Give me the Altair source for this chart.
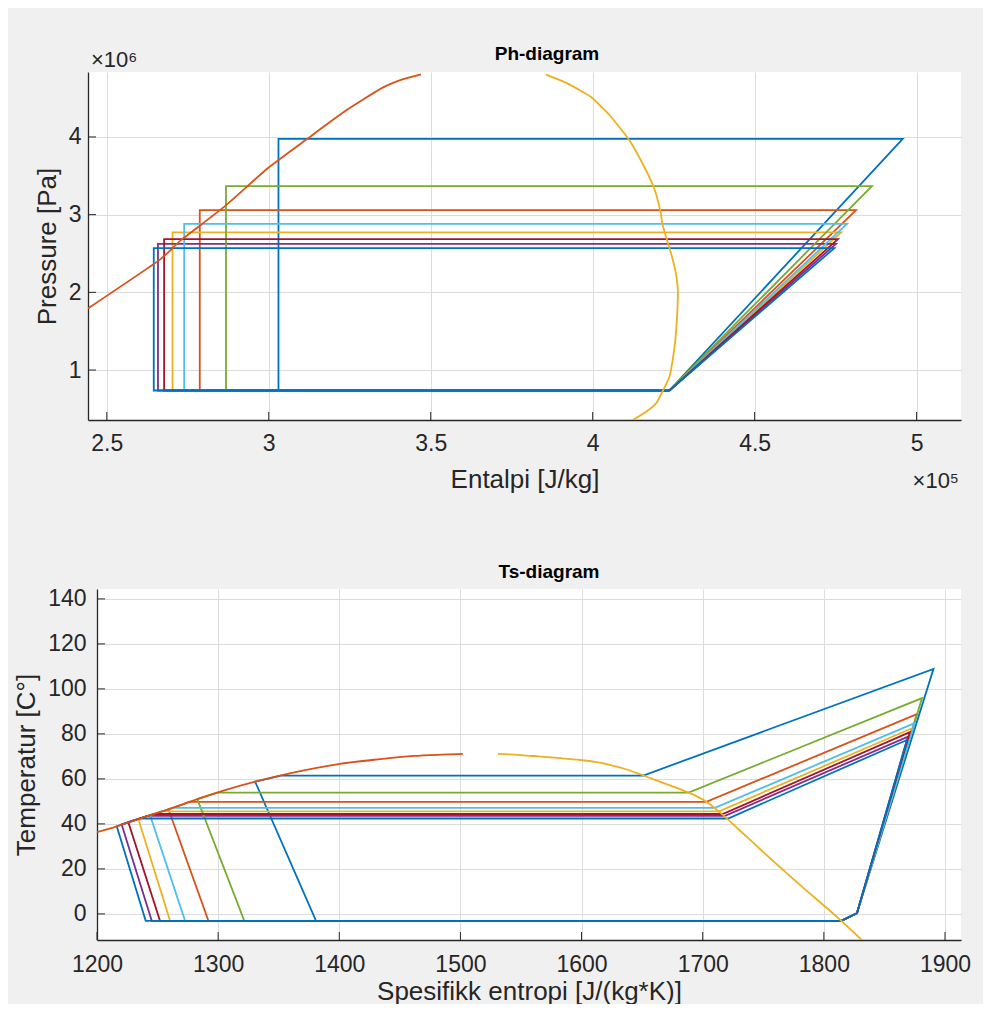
import altair as alt
import pandas as pd

# ---------------- data ----------------
# cycle order / colours (MATLAB default colour order)
cycle_names = ["c1", "c2", "c3", "c4", "c5", "c6", "c7", "c8"]
cycle_colors = ["#0072BD", "#D95319", "#EDB120", "#7E2F8E", "#77AC30", "#4DBEEE", "#A2142F", "#0072BD"]
dome_names = ["liq", "vap"]
dome_colors = ["#D95319", "#EDB120"]

# Ph-diagram: enthalpy in 1e5 J/kg, pressure in 1e6 Pa
ph_p_cond = [3.974, 3.057, 2.771, 2.624, 3.366, 2.881, 2.685, 2.569]
ph_h_liq = [3.030, 2.787, 2.703, 2.658, 2.868, 2.739, 2.677, 2.645]
ph_h_dis = [4.957, 4.813, 4.767, 4.751, 4.862, 4.785, 4.757, 4.746]
ph_p_evap = [0.737] * 8
ph_h_suc = [4.237] * 8

ph_liq_h = [2.442, 2.662, 2.729, 2.862, 2.996, 3.120, 3.238, 3.346, 3.408, 3.470]
ph_liq_p = [1.793, 2.415, 2.672, 3.100, 3.594, 3.979, 4.339, 4.622, 4.735, 4.806]
ph_vap_h = [3.856, 3.923, 3.995, 4.057, 4.113, 4.154, 4.190, 4.209, 4.216, 4.242,
            4.257, 4.263, 4.257, 4.250, 4.237, 4.196, 4.165, 4.124]
ph_vap_p = [4.802, 4.687, 4.514, 4.257, 3.958, 3.658, 3.337, 3.049, 2.865, 2.501,
            2.244, 1.986, 1.472, 1.215, 0.914, 0.572, 0.464, 0.357]

ph_xticks = [2.5, 3, 3.5, 4, 4.5, 5]
ph_yticks = [1, 2, 3, 4]

# Ts-diagram: entropy in J/(kg*K), temperature in C
ts_T_cond = [61.5, 49.8, 45.6, 43.6, 53.9, 47.1, 44.4, 42.4]
ts_T_dis = [108.9, 88.8, 82.5, 78.8, 95.9, 84.8, 80.8, 77.3]
ts_s_dis = [1890.5, 1876.8, 1872.7, 1869.5, 1881.0, 1874.9, 1871.0, 1868.5]
ts_s_vap = [1651.0, 1703.0, 1713.5, 1718.5, 1688.3, 1710.0, 1716.5, 1721.0]
ts_s_cend = [1352.0, 1276.5, 1253.5, 1242.0, 1299.5, 1262.5, 1247.0, 1235.5]
ts_s_sub = [1330.5, 1259.0, 1234.1, 1220.3, 1282.8, 1243.8, 1225.8, 1216.3]
ts_T_sub = [58.8, 46.5, 42.2, 39.8, 51.0, 43.8, 40.8, 38.9]
ts_s_thr = [1380.8, 1292.0, 1260.3, 1245.2, 1321.6, 1272.7, 1252.0, 1240.2]
ts_T_evap = [-3.1] * 8
ts_s_evsat = [1814.4] * 8
ts_s_suc = [1827.3] * 8
ts_T_suc = [0.3] * 8

ts_liq_s = [1200, 1216.3, 1240, 1259, 1282.8, 1305, 1330.5, 1360, 1398, 1434, 1461, 1485, 1502]
ts_liq_T = [36.3, 38.9, 43.2, 46.5, 51.0, 54.9, 58.8, 62.6, 66.5, 68.8, 70.2, 70.8, 71.1]
ts_vap_s = [1531, 1550, 1566, 1583, 1599, 1611, 1621.5, 1636, 1651, 1663, 1674, 1688.3,
            1696, 1703, 1712, 1730, 1753, 1780, 1814.4, 1831.4]
ts_vap_T = [71.1, 70.6, 69.9, 69.2, 68.4, 67.6, 66.5, 64.4, 61.5, 59.1, 56.9, 53.9,
            52.0, 49.8, 46.1, 37.4, 26.0, 13.0, -3.1, -11.6]

ts_xticks = [1200, 1300, 1400, 1500, 1600, 1700, 1800, 1900]
ts_yticks = [0, 20, 40, 60, 80, 100, 120, 140]

titles = ["Ph-diagram", "Ts-diagram"]

# ---------------- tables ----------------
ph_rows, ts_rows = [], []
for i, n in enumerate(cycle_names):
    pts = [(ph_h_suc[i], ph_p_evap[i]), (ph_h_dis[i], ph_p_cond[i]), (ph_h_liq[i], ph_p_cond[i]),
           (ph_h_liq[i], ph_p_evap[i]), (ph_h_suc[i], ph_p_evap[i])]
    for k, (a, b) in enumerate(pts):
        ph_rows.append({"series": n, "ord": k, "h": a, "p": b})
    pts = [(ts_s_suc[i], ts_T_suc[i]), (ts_s_dis[i], ts_T_dis[i]), (ts_s_vap[i], ts_T_cond[i]),
           (ts_s_cend[i], ts_T_cond[i]), (ts_s_sub[i], ts_T_sub[i]), (ts_s_thr[i], ts_T_evap[i]),
           (ts_s_evsat[i], ts_T_evap[i]), (ts_s_suc[i], ts_T_suc[i])]
    for k, (a, b) in enumerate(pts):
        ts_rows.append({"series": n, "ord": k, "s": a, "T": b})
ph_cycles = pd.DataFrame(ph_rows)
ts_cycles = pd.DataFrame(ts_rows)

ph_dome = pd.DataFrame(
    [{"series": "liq", "ord": k, "h": a, "p": b} for k, (a, b) in enumerate(zip(ph_liq_h, ph_liq_p))]
    + [{"series": "vap", "ord": k, "h": a, "p": b} for k, (a, b) in enumerate(zip(ph_vap_h, ph_vap_p))])
ts_dome = pd.DataFrame(
    [{"series": "liq", "ord": k, "s": a, "T": b} for k, (a, b) in enumerate(zip(ts_liq_s, ts_liq_T))]
    + [{"series": "vap", "ord": k, "s": a, "T": b} for k, (a, b) in enumerate(zip(ts_vap_s, ts_vap_T))])

color_scale = alt.Scale(domain=cycle_names + dome_names, range=cycle_colors + dome_colors)
FONT = "Liberation Sans"
AX = "#262626"
LW = 1.8
TITLE_FS = 19
TICK_FS = 23
AXTITLE_FS = 26


def straight(df, x, y):
    return alt.Chart(df).mark_line(strokeWidth=LW, clip=True).encode(
        x=x, y=y, order="ord:Q", detail="series:N",
        color=alt.Color("series:N", scale=color_scale, legend=None))


def curved(df, x, y):
    return alt.Chart(df).mark_line(strokeWidth=LW, clip=True, interpolate="monotone").encode(
        x=x, y=y, order="ord:Q", detail="series:N",
        color=alt.Color("series:N", scale=color_scale, legend=None))


def label(text, x, y, align="center", size=TICK_FS, weight="normal", color=AX):
    return alt.Chart(pd.DataFrame({"t": [text]})).mark_text(
        align=align, baseline="middle", font=FONT, fontSize=size, fontWeight=weight,
        color=color).encode(text="t:N", x=alt.value(x), y=alt.value(y))


# ---------------- Ph chart ----------------
W1, H1 = 873, 348
ph_x = alt.X("h:Q", scale=alt.Scale(domain=[2.442, 5.137], nice=False, zero=False),
             axis=alt.Axis(values=ph_xticks, format="~g", title="Entalpi [J/kg]",
                           labelPadding=12, titlePadding=11, labelFlush=False))
ph_y = alt.Y("p:Q", scale=alt.Scale(domain=[0.357, 4.836], nice=False, zero=False),
             axis=alt.Axis(values=ph_yticks, format="~g", title="Pressure [Pa]",
                           labelPadding=7, titlePadding=8))

ph_ty = alt.Chart(pd.DataFrame({"p": ph_yticks})).mark_rule(color=AX, strokeWidth=1).encode(
    y=ph_y, x=alt.value(0), x2=alt.value(8))
ph_tx = alt.Chart(pd.DataFrame({"h": ph_xticks})).mark_rule(color=AX, strokeWidth=1).encode(
    x=ph_x, y=alt.value(H1), y2=alt.value(H1 - 8))

ph = alt.layer(
    straight(ph_cycles, ph_x, ph_y),
    alt.Chart(ph_dome).mark_line(strokeWidth=LW, clip=True, interpolate="cardinal", tension=0.5).encode(
        x=ph_x, y=ph_y, order="ord:Q", detail="series:N",
        color=alt.Color("series:N", scale=color_scale, legend=None)),
    ph_ty, ph_tx,
    label("×10⁶", 3, -12, align="left", size=22),
    label("×10⁵", W1 - 2, H1 + 61, align="right", size=22),
    label(titles[0], 459, -18, size=TITLE_FS, weight="bold", color="#000000"),
).properties(width=W1, height=H1)

# ---------------- Ts chart ----------------
W2, H2 = 864, 351
ts_x = alt.X("s:Q", scale=alt.Scale(domain=[1200, 1913.2], nice=False, zero=False),
             axis=alt.Axis(values=ts_xticks, format="d", title="Spesifikk entropi [J/(kg*K)]",
                           labelPadding=13, titlePadding=2, labelFlush=False))
ts_y = alt.Y("T:Q", scale=alt.Scale(domain=[-11.6, 144.4], nice=False, zero=False),
             axis=alt.Axis(values=ts_yticks, format="d", title="Temperatur [C°]",
                           labelPadding=11, titlePadding=8))

ts_ty = alt.Chart(pd.DataFrame({"T": ts_yticks})).mark_rule(color=AX, strokeWidth=1).encode(
    y=ts_y, x=alt.value(0), x2=alt.value(8))
ts_tx = alt.Chart(pd.DataFrame({"s": ts_xticks})).mark_rule(color=AX, strokeWidth=1).encode(
    x=ts_x, y=alt.value(H2), y2=alt.value(H2 - 8))

ts = alt.layer(
    straight(ts_cycles, ts_x, ts_y),
    curved(ts_dome, ts_x, ts_y),
    ts_ty, ts_tx,
    label(titles[1], 452, -17, size=TITLE_FS, weight="bold", color="#000000"),
).properties(width=W2, height=H2)

spacer = alt.Chart(pd.DataFrame({"z": [0]})).mark_point(opacity=0).properties(
    width=1, height=1, view=alt.ViewBackground(fill="#f0f0f0", strokeWidth=0))

chart = alt.vconcat(
    ph,
    alt.hconcat(spacer, ts, spacing=8, bounds="flush"),
    spacing=169, bounds="flush",
).properties(
    background="#f0f0f0",
    padding={"left": 5, "top": 37, "right": 12, "bottom": 0},
).configure_view(
    fill="white", strokeWidth=0
).configure_axis(
    grid=True, gridColor="#dcdcdc", gridWidth=1,
    domainColor=AX, domainWidth=1.3, ticks=False,
    labelFont=FONT, labelFontSize=TICK_FS, labelColor=AX,
    titleFont=FONT, titleFontSize=AXTITLE_FS, titleColor=AX, titleFontWeight="normal",
)

chart.save("out.html", embed_options={"renderer": "svg", "actions": False})
